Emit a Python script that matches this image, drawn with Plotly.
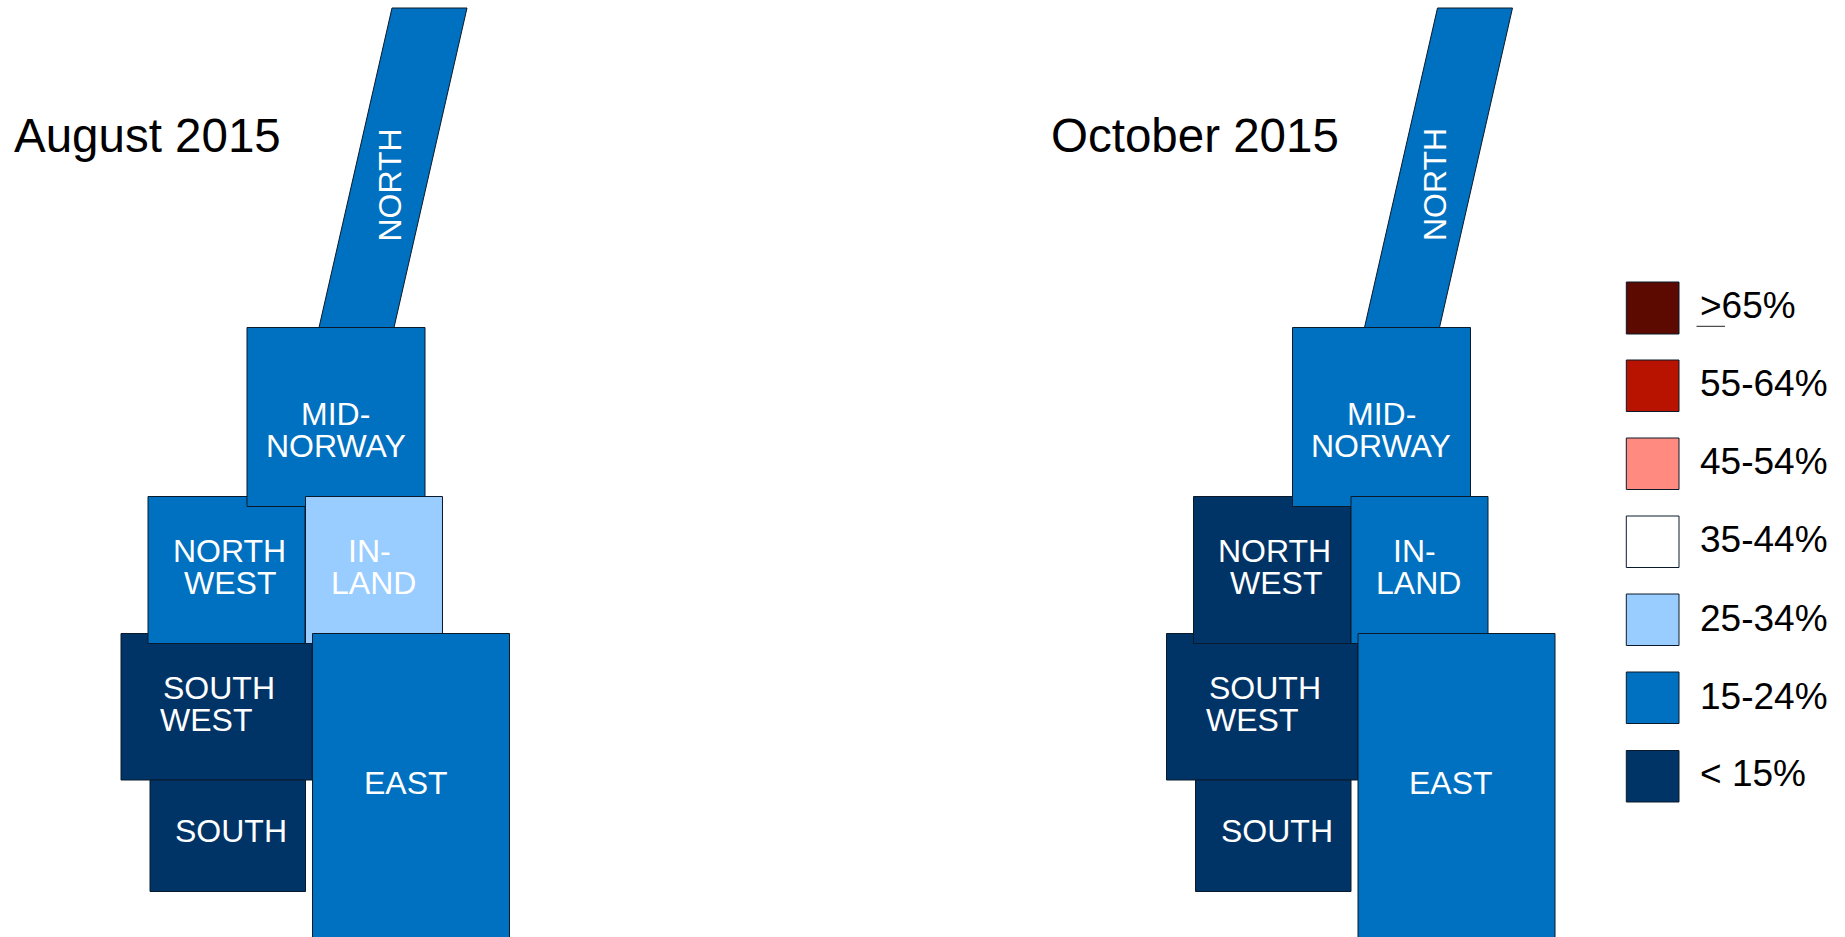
import plotly.graph_objects as go

# Schematic map of Norway, positions in the chart's own axis units
REGIONS = ["SOUTH WEST", "SOUTH", "NORTH WEST", "MID-NORWAY", "NORTH", "IN-LAND", "EAST"]
REGION_X = [
    [121, 312, 312, 121],
    [150, 305.5, 305.5, 150],
    [148, 305, 305, 148],
    [247, 425, 425, 247],
    [392, 467, 394, 319],
    [305.5, 442.5, 442.5, 305.5],
    [312.5, 509.5, 509.5, 312.5],
]
REGION_Y = [
    [633.5, 633.5, 780, 780],
    [780, 780, 891.5, 891.5],
    [496.5, 496.5, 643.5, 643.5],
    [327.5, 327.5, 506.5, 506.5],
    [8, 8, 327.5, 327.5],
    [496.5, 496.5, 643.5, 643.5],
    [633.5, 633.5, 960, 960],
]
BANDS = [">65%", "55-64%", "45-54%", "35-44%", "25-34%", "15-24%", "< 15%"]
BAND_COLORS = ["#5C0A00", "#B81200", "#FF8B80", "#FFFFFF", "#99CCFF", "#0070C0", "#003366"]

AUGUST_BANDS = ["< 15%", "< 15%", "15-24%", "15-24%", "15-24%", "25-34%", "15-24%"]
OCTOBER_BANDS = ["< 15%", "< 15%", "< 15%", "15-24%", "15-24%", "15-24%", "15-24%"]
MONTH_TITLES = ["August 2015", "October 2015"]
MONTH_OFFSETS = [0, 1045.5]
TITLE_X = [12, 1048.6]
TITLE_Y = 135

LABEL_TEXT = ["MID-", "NORWAY", "NORTH", "WEST", "IN-", "LAND", "SOUTH", "WEST", "EAST", "SOUTH"]
LABEL_X = [335.5, 335.5, 229.3, 230, 369, 373, 219, 206, 405.7, 231]
LABEL_Y = [414, 446, 551, 583, 551, 583, 687.5, 719.5, 783, 831]
NORTH_LABEL = ("NORTH", 389.5, 185)

LEGEND_X0, LEGEND_X1 = 1626.3, 1679
LEGEND_Y0 = [282, 360, 438, 516, 594, 672, 750.5]
LEGEND_Y1 = [334, 411.5, 489.5, 567.5, 645.5, 723.5, 802]
LEGEND_TEXT_X = 1698
LEGEND_TEXT_Y = [305.5, 383, 461, 539, 618, 696, 773.7]
UNDERLINE_X = [1696.5, 1725]
UNDERLINE_Y = [326.3, 326.3]

FONT = "Liberation Sans"
color_of = dict(zip(BANDS, BAND_COLORS))

fig = go.Figure()
annotations = []


def poly(xs, ys, fill):
    fig.add_trace(go.Scatter(
        x=xs + xs[:1], y=ys + ys[:1], mode="lines", fill="toself", fillcolor=fill,
        line=dict(color="#0A1A2A", width=1), hoverinfo="skip", showlegend=False,
    ))


def text(s, x, y, size, color, anchor="center", angle=0):
    annotations.append(dict(
        text=s, x=x, y=y, xref="x", yref="y", showarrow=False, xanchor=anchor, yanchor="middle",
        textangle=angle, font=dict(family=FONT, size=size, color=color),
    ))


for bands, off, title, tx in zip([AUGUST_BANDS, OCTOBER_BANDS], MONTH_OFFSETS, MONTH_TITLES, TITLE_X):
    for xs, ys, band in zip(REGION_X, REGION_Y, bands):
        poly([v + off for v in xs], ys, color_of[band])
    for s, x, y in zip(LABEL_TEXT, LABEL_X, LABEL_Y):
        text(s, x + off, y, 32, "white")
    text(NORTH_LABEL[0], NORTH_LABEL[1] + off, NORTH_LABEL[2], 32, "white", angle=-90)
    text(title, tx, TITLE_Y, 47.5, "black", anchor="left")

for band, c, y0, y1, ty in zip(BANDS, BAND_COLORS, LEGEND_Y0, LEGEND_Y1, LEGEND_TEXT_Y):
    poly([LEGEND_X0, LEGEND_X1, LEGEND_X1, LEGEND_X0], [y0, y0, y1, y1], c)
    text(band, LEGEND_TEXT_X, ty, 37, "black", anchor="left")
fig.add_trace(go.Scatter(x=UNDERLINE_X, y=UNDERLINE_Y, mode="lines", line=dict(color="#222222", width=1),
                         hoverinfo="skip", showlegend=False))

fig.update_layout(
    width=1845, height=937, margin=dict(l=0, r=0, t=0, b=0),
    paper_bgcolor="white", plot_bgcolor="white", annotations=annotations,
    xaxis=dict(range=[0, 1845], visible=False, fixedrange=True),
    yaxis=dict(range=[937, 0], visible=False, fixedrange=True),
)
fig.write_html("out.html", config={"displayModeBar": False},
               post_script="document.body.style.margin='0';document.body.style.overflow='hidden';")
